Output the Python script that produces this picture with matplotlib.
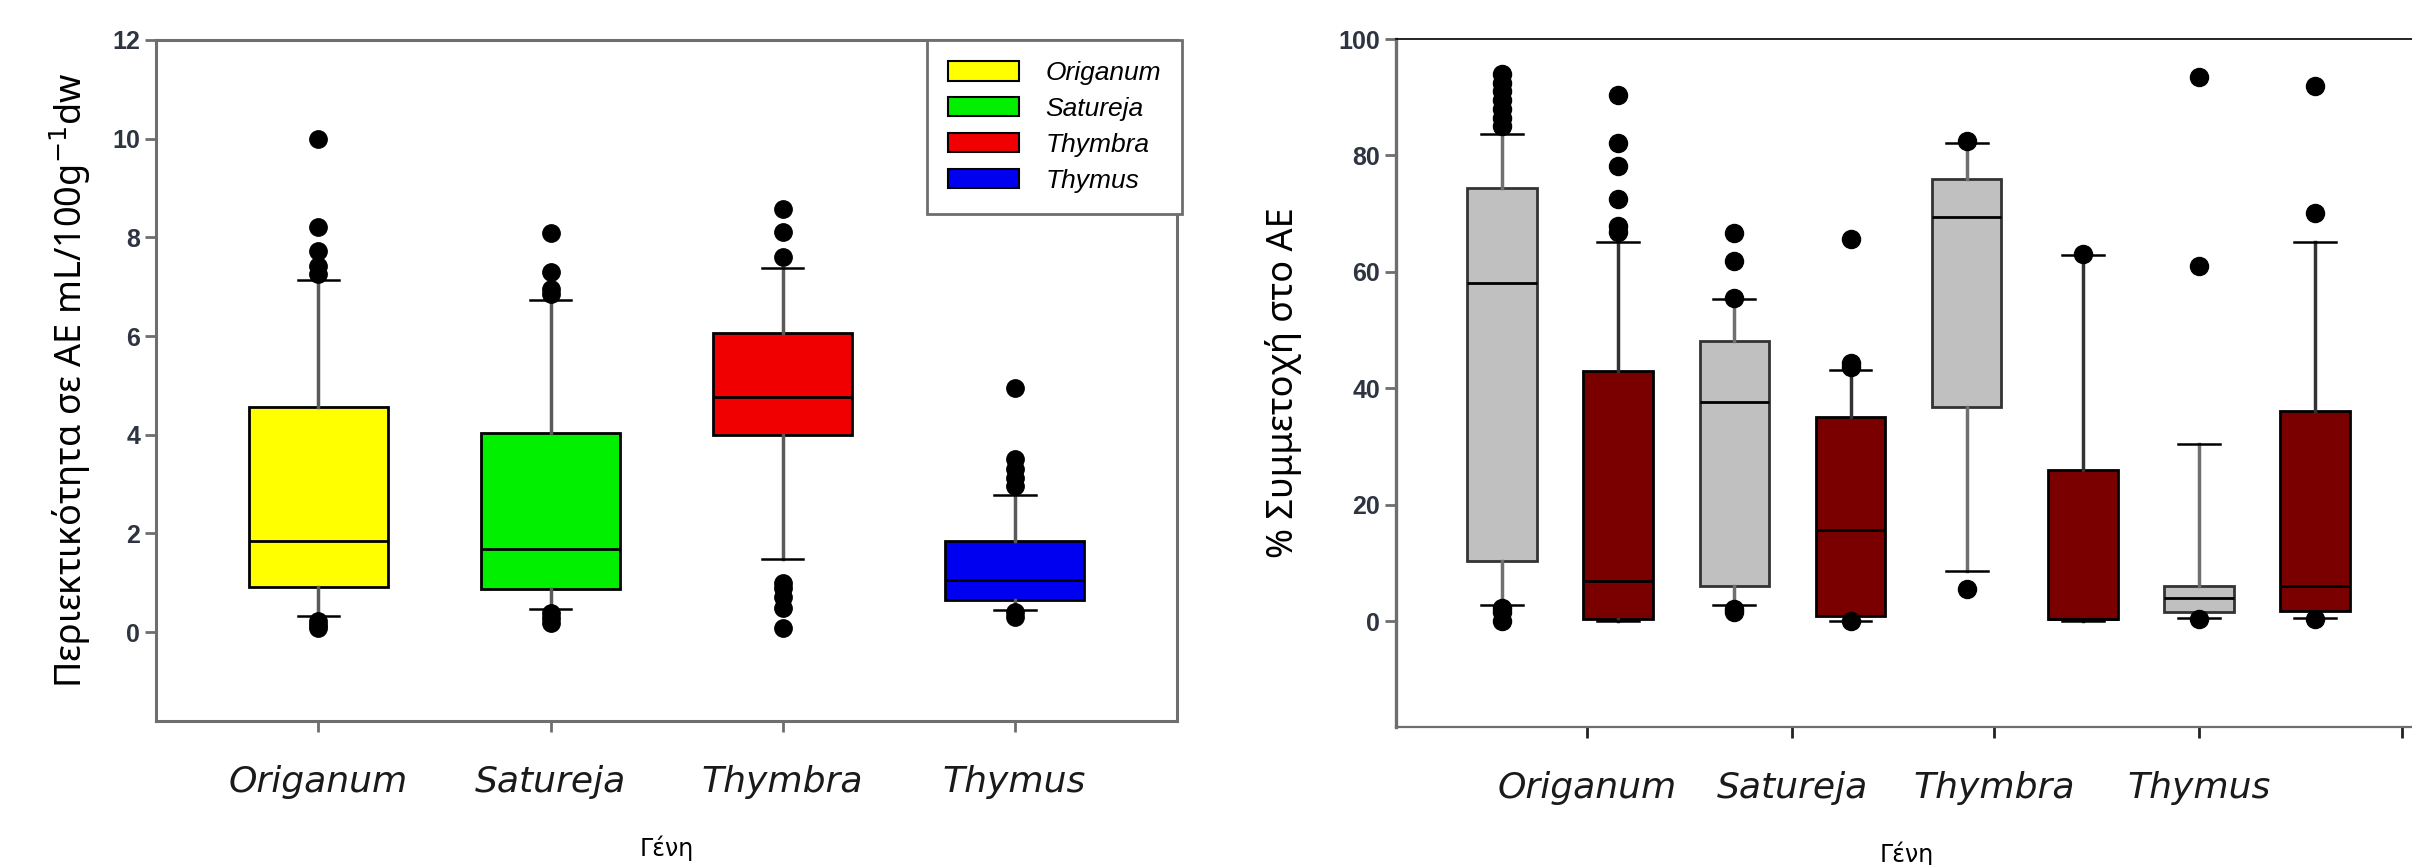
import numpy as np
import matplotlib
matplotlib.use('Agg')
import matplotlib.pyplot as plt
from matplotlib.patches import Patch

# Genera
genera = ['Origanum', 'Satureja', 'Thymbra', 'Thymus']
box_colors = ['#ffff00', '#00f000', '#f00000', '#0000f0']

# Left chart: essential oil content (mL/100g dw)
ae_q1 = [0.92, 0.87, 4.0, 0.66]
ae_med = [1.85, 1.68, 4.77, 1.05]
ae_q3 = [4.56, 4.04, 6.07, 1.85]
ae_whislo = [0.32, 0.46, 1.49, 0.44]
ae_whishi = [7.14, 6.73, 7.37, 2.78]
ae_fliers = [[0.08, 0.15, 0.22, 7.25, 7.42, 7.72, 8.2, 10.0],
             [0.18, 0.28, 0.38, 6.85, 6.95, 7.3, 8.09],
             [0.09, 0.48, 0.72, 0.9, 1.0, 7.6, 8.1, 8.58],
             [0.3, 0.4, 2.97, 3.12, 3.3, 3.5, 4.95]]

# Right chart: % participation in EO (grey and dark red series)
grey_q1 = [10.3, 6.0, 36.8, 1.5]
grey_med = [58.1, 37.7, 69.5, 3.9]
grey_q3 = [74.4, 48.2, 75.9, 6.0]
grey_whislo = [2.7, 2.7, 8.6, 0.6]
grey_whishi = [83.6, 55.3, 82.2, 30.4]
grey_fliers = [[0.0, 1.5, 2.2, 85.0, 86.5, 88.0, 89.5, 91.0, 92.5, 94.0],
               [1.5, 2.0, 55.5, 61.8, 66.6],
               [5.5, 82.5],
               [0.4, 61.0, 93.4]]

red_q1 = [0.3, 0.8, 0.3, 1.8]
red_med = [6.9, 15.7, 0.3, 6.0]
red_q3 = [43.0, 35.1, 25.9, 36.1]
red_whislo = [0.0, 0.0, 0.0, 0.6]
red_whishi = [65.2, 43.2, 62.9, 65.2]
red_fliers = [[66.9, 67.8, 72.5, 78.2, 82.2, 90.3],
              [0.0, 43.7, 44.4, 65.6],
              [63.1],
              [0.3, 70.1, 92.0]]

right_ticks = [1.366, 2.25, 3.12, 4.0, 4.875]
right_ticklabels = genera + ['']


def make_stats(q1, med, q3, lo, hi, fl):
    return [dict(q1=a, med=b, q3=c, whislo=d, whishi=e, fliers=np.array(f))
            for a, b, c, d, e, f in zip(q1, med, q3, lo, hi, fl)]


def draw_boxes(ax, stats, pos, width, faces, edge, whisker_col, ms):
    bp = ax.bxp(stats, positions=pos, widths=width, capwidths=0.18,
                patch_artist=True, showfliers=True,
                boxprops=dict(edgecolor=edge, linewidth=2),
                medianprops=dict(color='black', linewidth=2),
                whiskerprops=dict(color=whisker_col, linewidth=2.5),
                capprops=dict(color='black', linewidth=1.8),
                flierprops=dict(marker='o', markerfacecolor='black',
                                markeredgecolor='black', markersize=ms))
    for patch, fc in zip(bp['boxes'], faces):
        patch.set_facecolor(fc)
    return bp


fig = plt.figure(figsize=(24.12, 8.65), dpi=100)

gray = '#6e6e6e'
tick_font = dict(family='Liberation Sans', size=18, color='#2e3440', weight='bold')

# ---- left chart
ax1 = fig.add_axes([0.0647, 0.1665, 0.4233, 0.7873])
draw_boxes(ax1, make_stats(ae_q1, ae_med, ae_q3, ae_whislo, ae_whishi, ae_fliers),
           [1, 2, 3, 4], 0.6, box_colors, 'black', '#5a5a5a', 12.5)
ax1.set_xlim(0.3, 4.7)
ax1.set_ylim(-1.8, 12)
ax1.set_yticks([0, 2, 4, 6, 8, 10, 12])
ax1.set_xticks([1, 2, 3, 4])
ax1.set_xticklabels(genera, fontsize=26, style='italic', color='#1a1a1a')
for lab in ax1.get_yticklabels():
    lab.set(**tick_font)
for s in ax1.spines.values():
    s.set_color(gray)
    s.set_linewidth(2.2)
ax1.tick_params(axis='both', direction='out', length=8, width=2, color=gray)
ax1.tick_params(axis='x', pad=24)
ax1.set_ylabel('Περιεκτικότητα σε ΑΕ mL/100g$^{-1}$dw', fontsize=26,
               family='Noto Sans', labelpad=14)
ax1.set_xlabel('Γένη', fontsize=17, labelpad=26)

handles = [Patch(facecolor=c, edgecolor='black', linewidth=1.5) for c in box_colors]
leg = fig.legend(handles, genera, loc='upper right',
                 bbox_to_anchor=(1182 / 2412, 1 - 40 / 865), borderaxespad=0,
                 fancybox=False, prop=dict(family='Liberation Sans', style='italic', size=19),
                 handlelength=2.7, handleheight=0.75, labelspacing=0.45,
                 borderpad=0.8, handletextpad=1.0)
leg.get_frame().set_edgecolor(gray)
leg.get_frame().set_linewidth(2)
leg.get_frame().set_alpha(1)

# ---- right chart
ax2 = fig.add_axes([0.5788, 0.1595, 0.4237, 0.7954])
x = np.arange(1, 5)
draw_boxes(ax2, make_stats(grey_q1, grey_med, grey_q3, grey_whislo, grey_whishi, grey_fliers),
           x, 0.3, ['#c0c0c0'] * 4, '#333333', '#707070', 13)
draw_boxes(ax2, make_stats(red_q1, red_med, red_q3, red_whislo, red_whishi, red_fliers),
           x + 0.5, 0.3, ['#7a0000'] * 4, 'black', '#333333', 13)
ax2.set_xlim(0.543, 4.944)
ax2.set_ylim(-18.2, 100)
ax2.set_yticks([0, 20, 40, 60, 80, 100])
ax2.set_xticks(right_ticks)
ax2.set_xticklabels(right_ticklabels, fontsize=26, style='italic', color='#1a1a1a')
for lab in ax2.get_yticklabels():
    lab.set(**tick_font)
ax2.spines['right'].set_visible(False)
ax2.spines['top'].set_color('black')
ax2.spines['top'].set_linewidth(1.2)
ax2.spines['left'].set_color(gray)
ax2.spines['left'].set_linewidth(2.4)
ax2.spines['bottom'].set_color(gray)
ax2.spines['bottom'].set_linewidth(1.6)
ax2.tick_params(axis='y', direction='out', length=8, width=2, color=gray)
ax2.tick_params(axis='x', direction='out', length=8, width=2, color='#222222', pad=24)
ax2.set_ylabel('% Συμμετοχή στο ΑΕ', fontsize=26, family='Noto Sans', labelpad=26)
ax2.set_xlabel('Γένη', fontsize=17, labelpad=26)

fig.savefig('out.png', dpi=100)
